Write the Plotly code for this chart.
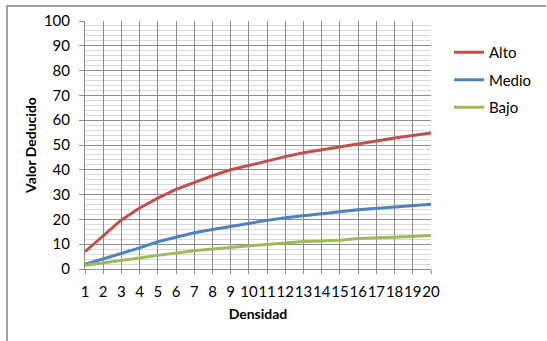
import plotly.graph_objects as go

densidad = list(range(1, 21))
alto = [7, 13.5, 19.8, 24.6, 28.6, 32.1, 35.0, 37.6, 40.0, 41.8, 43.8, 45.3, 46.9, 48.0, 49.1, 50.4, 51.6, 52.8, 53.7, 54.8]
medio = [1.9, 4.0, 6.1, 8.5, 11.0, 12.9, 14.6, 15.9, 17.2, 18.5, 19.6, 20.7, 21.6, 22.4, 23.1, 23.9, 24.5, 25.1, 25.6, 26.1]
bajo = [1.5, 2.4, 3.4, 4.4, 5.5, 6.6, 7.4, 8.1, 8.7, 9.5, 10.1, 10.7, 11.1, 11.3, 11.6, 12.3, 12.5, 12.8, 13.1, 13.5]

series = [("Alto", alto, "#C0504D"), ("Medio", medio, "#4F81BD"), ("Bajo", bajo, "#9BBB59")]

W, H = 547, 341
L, R, T, B = 85, 431, 21, 269

fig = go.Figure()
for name, vals, col in series:
    fig.add_trace(go.Scatter(x=densidad, y=vals, name=name, mode="lines",
                             line=dict(color=col, width=3), legendgroup=name))

font = "Lato, Calibri, 'Liberation Sans', sans-serif"
fig.update_layout(
    width=W, height=H,
    margin=dict(l=L, r=W - R, t=T, b=H - B, pad=0, autoexpand=False),
    paper_bgcolor="white", plot_bgcolor="white",
    font=dict(family=font, size=15, color="#000000"),
    showlegend=True,
    legend=dict(x=(449 - L) / (R - L), y=(B - 36) / (B - T), xanchor="left", yanchor="top",
                font=dict(size=15), tracegroupgap=5, bgcolor="rgba(0,0,0,0)"),
    xaxis=dict(range=[1, 20], tickmode="array", tickvals=densidad, ticktext=[str(v) for v in densidad],
               tickangle=0, automargin=False,
               showgrid=True, gridcolor="#8C8C8C", gridwidth=1,
               showline=True, linecolor="#8C8C8C", ticks="outside", ticklen=4, tickcolor="#8C8C8C",
               ticklabelstandoff=5, tickfont=dict(size=15),
               title=dict(text="<b>Densidad</b>", font=dict(size=14), standoff=10),
               zeroline=False, fixedrange=True),
    yaxis=dict(range=[0, 100], dtick=10, automargin=False,
               showgrid=True, gridcolor="#8C8C8C", gridwidth=1,
               minor=dict(dtick=2, showgrid=True, gridcolor="#D9D9D9", gridwidth=1),
               showline=True, linecolor="#8C8C8C", ticks="outside", ticklen=5, tickcolor="#8C8C8C",
               ticklabelstandoff=6, tickfont=dict(size=15),
               title=dict(text="<b>Valor Deducido</b>", font=dict(size=14), standoff=3),
               zeroline=False, fixedrange=True),
)

fy = (B - 6) / (B - T)
fx = (7 - L) / (R - L)
fig.add_shape(type="path", xref="paper", yref="paper",
              path=f"M {fx},{(B - 341) / (B - T)} L {fx},{fy} L {(546 - L) / (R - L)},{fy}",
              line=dict(color="#808080", width=1.5), layer="above")

fig.write_html("out.html", config={"displayModeBar": False},
               post_script="document.body.style.margin='0px'; window.scrollTo(0,0);")
